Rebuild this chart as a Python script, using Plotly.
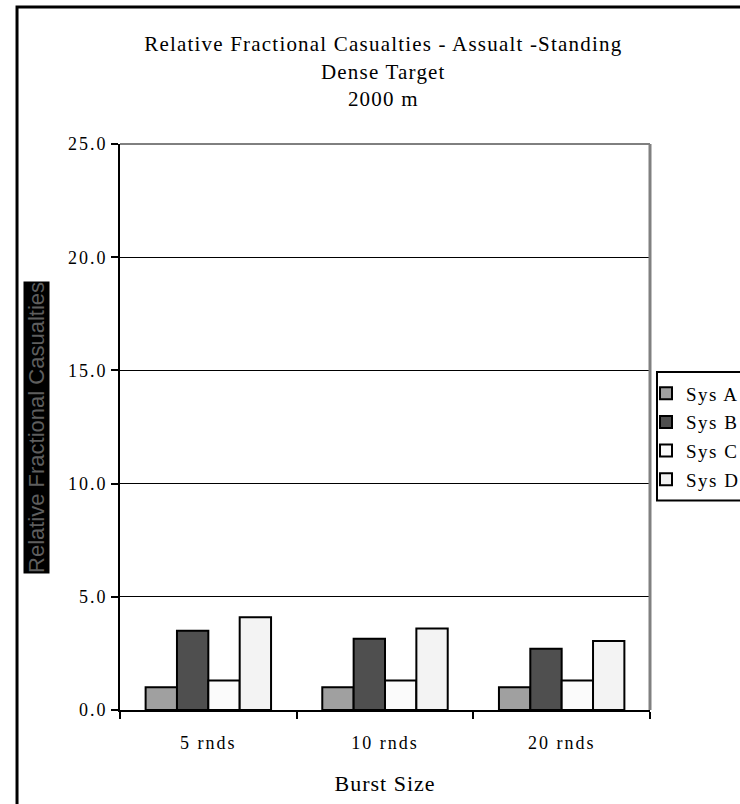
import plotly.graph_objects as go

categories = ["5 rnds", "10 rnds", "20 rnds"]
series_names = ["Sys A", "Sys B", "Sys C", "Sys D"]
sys_a = [1.0, 1.0, 1.0]
sys_b = [3.5, 3.15, 2.7]
sys_c = [1.3, 1.3, 1.3]
sys_d = [4.1, 3.6, 3.05]
y_ticks = [0.0, 5.0, 10.0, 15.0, 20.0, 25.0]

fills = ["#a0a0a0", "#4f4f4f", "#fbfbfb", "#f3f3f3"]
values = [sys_a, sys_b, sys_c, sys_d]


def spaced(text, px):
    return f"<span style='letter-spacing:{px}px'>{text}</span>"


fig = go.Figure()
for name, vals, col in zip(series_names, values, fills):
    fig.add_trace(go.Bar(
        x=categories, y=vals, name=spaced(name, 1.5), legendgroup=name,
        marker=dict(color=col, line=dict(color="#000000", width=2)),
    ))

serif = "Liberation Serif, Times New Roman, serif"

fig.update_layout(
    width=740, height=804,
    paper_bgcolor="white", plot_bgcolor="white",
    font=dict(family=serif, size=18, color="#000"),
    title=dict(
        text=spaced("Relative Fractional Casualties - Assualt -Standing", 1.2)
        + "<br>" + spaced("Dense Target", 1.2) + "<br>" + spaced("2000 m", 1.2),
        x=0.518, xanchor="center", xref="container",
        y=0.936, yanchor="top", yref="container",
        font=dict(size=21),
    ),
    barmode="group", bargap=0.29, bargroupgap=0.0,
    margin=dict(l=120, r=90, t=144, b=94, autoexpand=False),
    showlegend=True,
    legend=dict(
        x=0.9925, xanchor="left", y=0.593, yanchor="top",
        borderwidth=0, bgcolor="rgba(0,0,0,0)",
        font=dict(size=19), tracegroupgap=1, itemwidth=30,
    ),
    xaxis=dict(
        showline=True, linecolor="#000", linewidth=2,
        ticks="outside", ticklen=7, tickcolor="#000", tickwidth=2,
        tickson="boundaries", ticklabelstandoff=15,
        tickvals=categories, ticktext=[spaced(c, 2) for c in categories],
        title=dict(text=spaced("Burst Size", 1), standoff=24),
    ),
    yaxis=dict(
        range=[0, 25], tickvals=y_ticks,
        ticktext=[spaced(f"{v:.1f}", 2) for v in y_ticks],
        showline=True, linecolor="#000", linewidth=2,
        ticks="outside", ticklen=7, tickcolor="#000", tickwidth=2,
        showgrid=True, gridcolor="#000", gridwidth=1,
        zeroline=False,
    ),
)

# rotated value-axis caption on a black band
fig.add_annotation(
    text="Relative Fractional Casualties", textangle=-90,
    xref="paper", yref="paper", x=-0.1585, y=0.5,
    xanchor="center", yanchor="middle", showarrow=False,
    bgcolor="#000000", borderpad=0,
    font=dict(family="Arial, Liberation Sans, sans-serif", size=22, color="#5e5e5e"),
)

# outer chart frame, top edge of the plot area and its gray right border
fig.add_shape(type="rect", xref="paper", yref="paper", x0=-0.1943, x1=1.25, y0=-0.2, y1=1.242,
              line=dict(color="#000", width=3), fillcolor="rgba(0,0,0,0)", layer="below")
fig.add_shape(type="line", xref="paper", yref="paper", x0=0, x1=1, y0=1, y1=1,
              line=dict(color="#000", width=1))
fig.add_shape(type="line", xref="paper", yref="paper", x0=1, x1=1, y0=0, y1=1,
              line=dict(color="#808080", width=3))
# legend frame
fig.add_shape(type="rect", xref="paper", yref="paper", x0=1.0132, x1=1.3, y0=0.37, y1=0.5972,
              line=dict(color="#000", width=2), fillcolor="white", layer="above")

fig.write_html("out.html")
